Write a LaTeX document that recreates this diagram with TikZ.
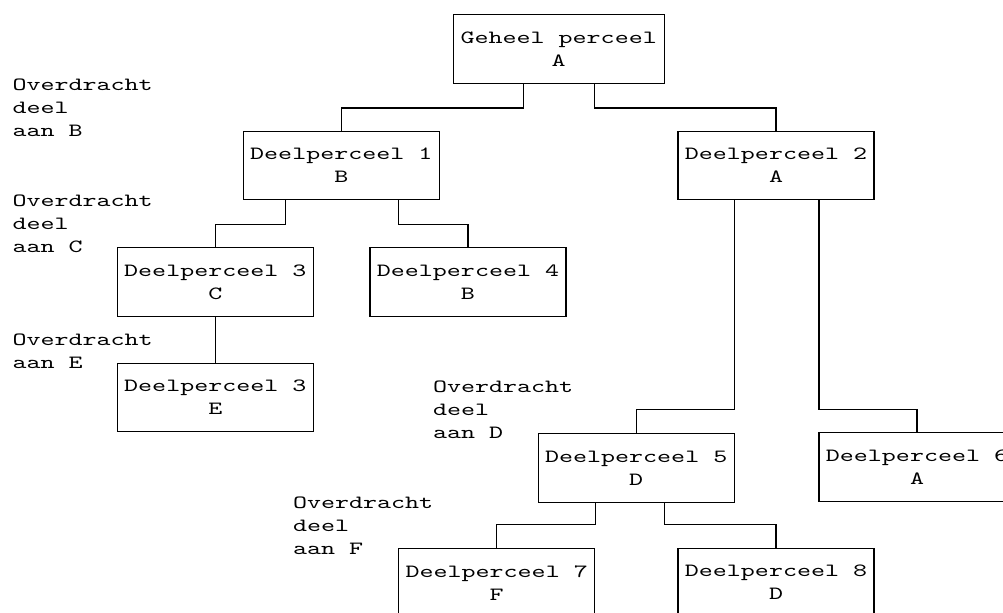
\documentclass[tikz,border=0pt]{standalone}
\usepackage{fontspec}
\setmonofont{lmmono10-regular.otf}[FakeStretch=1.43]

\begin{document}
\begin{tikzpicture}
		[x=0.75pt, y=-0.75pt, line width=0.8pt,
		every node/.style={font=\ttfamily\fontsize{14pt}{17.25pt}\selectfont, inner sep=0pt},
		perceel/.style={draw, align=center, minimum width=147pt, minimum height=51.4pt},
		overdracht/.style={align=left, anchor=west}]
		\useasboundingbox (0,0) rectangle (1003,613);
		\clip (0,0) rectangle (1003,613);
		
		\node[perceel, minimum width=158pt] (A) at (558.7,49.2) {Geheel perceel\\A};
		\node[perceel] (B1) at (341.3,165.5) {Deelperceel 1\\B};
		\node[perceel] (B2) at (776,165.5) {Deelperceel 2\\A};
		\node[perceel] (C3) at (215.3,282.2) {Deelperceel 3\\C};
		\node[perceel] (B4) at (468,282.2) {Deelperceel 4\\B};
		\node[perceel] (E3) at (215.3,397.5) {Deelperceel 3\\E};
		\node[perceel] (D5) at (636.2,467.8) {Deelperceel 5\\D};
		\node[perceel] (A6) at (917,467.2) {Deelperceel 6\\A};
		\node[perceel] (F7) at (496.7,582.8) {Deelperceel 7\\F};
		\node[perceel] (D8) at (776,582.5) {Deelperceel 8\\D};
		
		\node[overdracht] (aanB) at (12,107.5) {Overdracht\\deel\\aan B};
		\node[overdracht] (aanC) at (12,223.5) {Overdracht\\deel\\aan C};
		\node[overdracht] (aanE) at (12,351.5) {Overdracht\\aan E};
		\node[overdracht] (aanD) at (432.5,409.5) {Overdracht\\deel\\aan D};
		\node[overdracht] (aanF) at (292.5,525.5) {Overdracht\\deel\\aan F};
		
		\draw (A.south) ++(-35,0) -- ++(0,24) -| (B1);
		\draw (A.south) ++(36,0) -- ++(0,24) -| (B2);
		\draw (B1.south) ++(-56,0) -- ++(0,24) -| (C3);
		\draw (B1.south) ++(57,0) -- ++(0,24) -| (B4);
		\draw (C3) -- (E3);
		\draw (B2.south) ++(-41.5,0) -- ++(0,209) -| (D5);
		\draw (B2.south) ++(43,0) -- ++(0,209) -| (A6);
		\draw (D5.south) ++(-41,0) -- ++(0,22) -| (F7);
		\draw (D5.south) ++(28,0) -- ++(0,22) -| (D8);
		\end{tikzpicture}
\end{document}
